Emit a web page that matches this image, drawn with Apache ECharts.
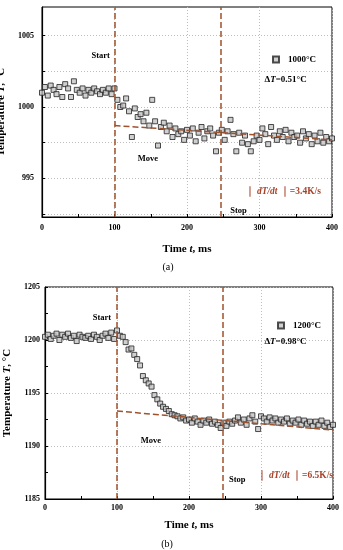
<!DOCTYPE html>
<html>
<head>
<meta charset="utf-8">
<script src="https://cdn.jsdelivr.net/npm/echarts@6/dist/echarts.min.js"></script>
<style>html,body{margin:0;padding:0;background:#fff;}#c{width:343px;height:550px;}</style>
</head>
<body>
<div id="c"></div>
<script>
// ---- data ----
const SAMPLE_STEP_MS = 4;
const tempA = [
  1001.0, 1001.4, 1000.8, 1001.5, 1001.2, 1000.9, 1001.4, 1000.7, 1001.6, 1001.3,
  1000.7, 1001.8, 1001.2, 1001.0, 1001.3, 1000.8, 1001.2, 1001.0, 1001.3, 1001.1,
  1000.9, 1001.2, 1001.0, 1001.3, 1000.9, 1001.3,
  1000.5, 1000.0, 1000.1, 1000.6, 999.7, 997.9, 999.9, 999.3, 999.5, 999.0,
  999.6, 998.7, 1000.5, 999.0, 997.3, 998.6, 998.9, 998.3, 998.7, 997.9,
  998.5, 998.1, 998.3, 997.7, 998.4, 998.0, 998.5, 997.6, 998.2, 998.6,
  997.8, 998.3, 998.5, 998.0, 996.9, 998.2, 998.4, 997.7, 998.3, 999.1,
  998.1, 996.9, 998.2, 997.5, 998.0, 997.4, 996.9, 997.6, 998.0, 997.7,
  998.5, 998.1, 997.4, 998.6, 998.0, 997.7, 998.3, 997.9, 998.4, 997.6,
  998.2, 997.9, 998.0, 997.5, 998.3, 997.8, 998.1, 997.4, 998.0, 997.6,
  998.2, 997.5, 997.9, 997.6, 997.8
];
const tempB = [
  1200.3, 1200.5, 1200.1, 1200.4, 1200.6, 1200.0, 1200.5, 1200.3, 1200.6, 1200.2,
  1200.4, 1199.9, 1200.5, 1200.3, 1200.2, 1200.4, 1200.1, 1200.5, 1200.3, 1200.0,
  1200.4, 1200.6, 1200.2, 1200.7, 1200.1,
  1200.9, 1200.4, 1200.3, 1199.8, 1199.1, 1199.2, 1198.6, 1198.2, 1197.6, 1196.6,
  1196.2, 1195.9, 1195.6, 1194.8, 1194.4, 1194.0, 1193.7, 1193.5, 1193.3, 1193.0,
  1192.9, 1192.8, 1192.6, 1192.7, 1192.4,
  1192.5, 1192.2, 1192.6, 1192.3, 1192.0, 1192.4, 1192.2, 1192.5, 1192.1, 1192.3,
  1192.0, 1191.7, 1192.2, 1191.9, 1192.3, 1192.1, 1192.4, 1192.7, 1192.2, 1192.5,
  1192.0, 1192.6, 1192.9, 1192.3, 1191.6, 1192.8, 1192.6, 1192.3, 1192.7, 1192.4,
  1192.6, 1192.2, 1192.5, 1192.3, 1192.6, 1192.1, 1192.4, 1192.2, 1192.5, 1192.0,
  1192.4, 1192.1, 1192.3, 1191.9, 1192.3, 1192.0, 1192.4, 1191.9, 1192.2, 1191.8,
  1192.0
];
const fitA = [[100, 998.7], [400, 997.7]];
const fitB = [[100, 1193.3], [400, 1191.5]];
const eventTimes = [100, 247];
const yLabelsA = [995, 1000, 1005];
const yTicksA = [992.5, 995, 997.5, 1000, 1002.5, 1005];
const seriesNames = ['1000°C', '1200°C'];
const deltaTexts = ['0.51°C', '0.98°C'];
const rateTexts = ['3.4K/s', '6.5K/s'];
// annotation anchors in data coords [t, T]
const annA = {start: [81, 1003.6], move: [146, 996.35], stop: [271, 992.7], rate: [332, 994.1], delta: [336, 1001.9]};
const annB = {start: [79, 1202.05], move: [147, 1190.45], stop: [267, 1186.85], rate: [347, 1187.2], delta: [334, 1199.85]};

const times = tempA.map((_, i) => i * SAMPLE_STEP_MS);
const ptsA = times.map((t, i) => [t, tempA[i]]);
const ptsB = times.map((t, i) => [t, tempB[i]]);

const FONT = '"Liberation Serif", "Times New Roman", serif';
const BROWN = '#a0522d';
const RATE = '#a8432a';

const chart = echarts.init(document.getElementById('c'), null, {renderer: 'canvas'});

function xAxis(gi) {
  return {
    type: 'value', gridIndex: gi, min: 0, max: 400, interval: 100,
    name: '{n|Time }{i|t}{n|, ms}', nameLocation: 'middle', nameGap: gi === 0 ? 27 : 21,
    nameTextStyle: {rich: {
      n: {fontFamily: FONT, fontWeight: 'bold', fontSize: 11, color: '#000'},
      i: {fontFamily: FONT, fontWeight: 'bold', fontStyle: 'italic', fontSize: 11, color: '#000'}
    }},
    axisLine: {show: true, lineStyle: {color: '#000', width: 1.2}},
    axisTick: {show: true, inside: true, length: 3, lineStyle: {color: '#000'}},
    minorTick: {show: true, splitNumber: 2, length: 3, lineStyle: {color: '#000'}},
    axisLabel: {fontFamily: FONT, fontWeight: 'bold', fontSize: 8, color: '#000', margin: gi === 0 ? 7 : 5},
    splitLine: {show: true, lineStyle: {color: '#bdbdbd', type: [1, 2], width: 1}}
  };
}
function yName(gi) {
  return {
    name: '{n|Temperature }{i|T}{n|, °C}', nameLocation: 'middle', nameGap: gi === 0 ? 25 : 29,
    nameTextStyle: {rich: {
      n: {fontFamily: FONT, fontWeight: 'bold', fontSize: 11, color: '#000'},
      i: {fontFamily: FONT, fontWeight: 'bold', fontStyle: 'italic', fontSize: 11, color: '#000'}
    }}
  };
}

const option = {
  animation: false,
  backgroundColor: '#fff',
  grid: [
    {left: 42, top: 7, width: 290, height: 210, show: true, borderColor: '#000', borderWidth: 1,
      containLabel: false, outerBoundsMode: 'none'},
    {left: 45, top: 287, width: 288, height: 212, show: true, borderColor: '#000', borderWidth: 1,
      containLabel: false, outerBoundsMode: 'none'}
  ],
  xAxis: [xAxis(0), xAxis(1)],
  yAxis: [
    Object.assign({
      type: 'value', gridIndex: 0, min: 992.3, max: 1007, splitNumber: 3,
      axisLine: {show: true, lineStyle: {color: '#000', width: 1.2}},
      axisTick: {show: true, inside: true, length: 3, customValues: yTicksA, lineStyle: {color: '#000'}},
      axisLabel: {fontFamily: FONT, fontWeight: 'bold', fontSize: 8, color: '#000', margin: 8,
        customValues: yLabelsA,
        formatter: v => (Math.abs(v % 5) < 1e-6 ? String(v) : '')},
      splitLine: {show: true, lineStyle: {color: '#bdbdbd', type: [1, 2], width: 1}}
    }, yName(0)),
    Object.assign({
      type: 'value', gridIndex: 1, min: 1185, max: 1205, interval: 5,
      axisLine: {show: true, lineStyle: {color: '#000', width: 1.2}},
      axisTick: {show: true, inside: true, length: 3, lineStyle: {color: '#000'}},
      minorTick: {show: true, splitNumber: 2, length: 3, lineStyle: {color: '#000'}},
      axisLabel: {fontFamily: FONT, fontWeight: 'bold', fontSize: 8, color: '#000', margin: 5,
        formatter: v => String(v)},
      splitLine: {show: true, lineStyle: {color: '#bdbdbd', type: [1, 2], width: 1}}
    }, yName(1))
  ],
  legend: [
    {data: [seriesNames[0]], left: 272, top: 55, itemWidth: 6, itemHeight: 6, padding: 0,
      textStyle: {fontFamily: FONT, fontWeight: 'bold', fontSize: 9, color: '#000', padding: [0, 0, 0, 4]}},
    {data: [seriesNames[1]], left: 277, top: 321, itemWidth: 6, itemHeight: 6, padding: 0,
      textStyle: {fontFamily: FONT, fontWeight: 'bold', fontSize: 9, color: '#000', padding: [0, 0, 0, 4]}}
  ],
  series: [
    {
      name: seriesNames[0], type: 'scatter', xAxisIndex: 0, yAxisIndex: 0, data: ptsA,
      symbol: 'rect', symbolSize: 5,
      itemStyle: {color: '#c4c4c4', borderColor: '#222', borderWidth: 1}, z: 3
    },
    {
      name: 'fitA', type: 'line', xAxisIndex: 0, yAxisIndex: 0, data: fitA, symbol: 'none',
      lineStyle: {color: BROWN, width: 1.5, type: [6, 3]}, z: 4,
      markLine: {silent: true, symbol: ['none', 'none'], label: {show: false},
        lineStyle: {color: BROWN, width: 1.5, type: [6, 3]},
        data: eventTimes.map(t => ({xAxis: t}))}
    },
    {
      name: seriesNames[1], type: 'scatter', xAxisIndex: 1, yAxisIndex: 1, data: ptsB,
      symbol: 'rect', symbolSize: 5,
      itemStyle: {color: '#c4c4c4', borderColor: '#222', borderWidth: 1}, z: 3
    },
    {
      name: 'fitB', type: 'line', xAxisIndex: 1, yAxisIndex: 1, data: fitB, symbol: 'none',
      lineStyle: {color: BROWN, width: 1.5, type: [6, 3]}, z: 4,
      markLine: {silent: true, symbol: ['none', 'none'], label: {show: false},
        lineStyle: {color: BROWN, width: 1.5, type: [6, 3]},
        data: eventTimes.map(t => ({xAxis: t}))}
    }
  ]
};
chart.setOption(option);

function txt(gi, pos, text, opts) {
  const p = chart.convertToPixel({gridIndex: gi}, pos);
  return {
    type: 'text', x: p[0], y: p[1], z: 10,
    style: Object.assign({text: text, align: 'center', verticalAlign: 'middle',
      font: 'bold 8.5px ' + FONT, fill: '#000'}, opts || {})
  };
}
const richBlack = {
  n: {fontFamily: FONT, fontWeight: 'bold', fontSize: 9, fill: '#000', color: '#000'},
  i: {fontFamily: FONT, fontWeight: 'bold', fontStyle: 'italic', fontSize: 9, fill: '#000', color: '#000'}
};
const richRate = {
  n: {fontFamily: FONT, fontWeight: 'bold', fontSize: 9.5, color: RATE, fill: RATE},
  i: {fontFamily: FONT, fontWeight: 'bold', fontStyle: 'italic', fontSize: 9.5, color: RATE, fill: RATE},
  bar: {fontFamily: FONT, fontWeight: 'bold', fontSize: 9.5, color: RATE, fill: RATE}
};
const graphics = [];
[annA, annB].forEach((a, gi) => {
  graphics.push(txt(gi, a.start, 'Start'));
  graphics.push(txt(gi, a.move, 'Move'));
  graphics.push(txt(gi, a.stop, 'Stop'));
  graphics.push(txt(gi, a.delta, '{n|Δ}{i|T}{n|=' + deltaTexts[gi] + '}', {rich: richBlack}));
  graphics.push(txt(gi, a.rate, '{bar|｜ }{i|dT/dt}{bar| ｜}{n|=' + rateTexts[gi] + '}', {rich: richRate}));
});
graphics.push({type: 'text', x: 168, y: 267, style: {text: '(a)', align: 'center', verticalAlign: 'middle', font: '10px ' + FONT, fill: '#000'}});
graphics.push({type: 'text', x: 167, y: 544, style: {text: '(b)', align: 'center', verticalAlign: 'middle', font: '10px ' + FONT, fill: '#000'}});
chart.setOption({graphic: graphics});
</script>
</body>
</html>
